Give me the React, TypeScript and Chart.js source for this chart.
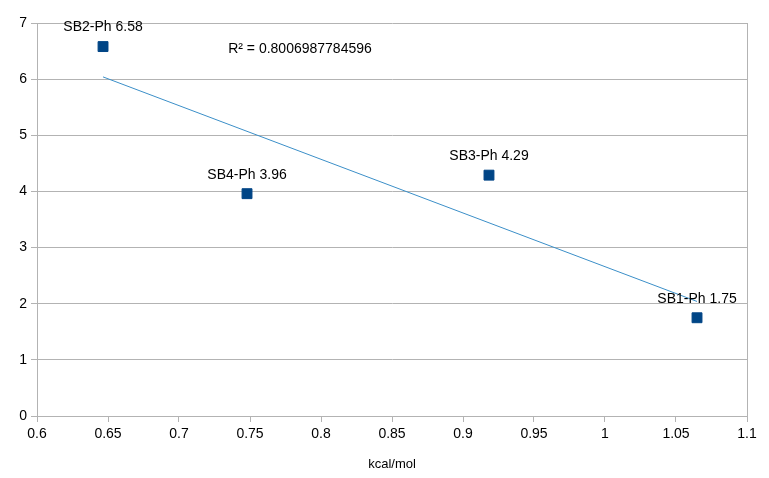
import React, { useEffect, useRef } from "react";
import { Chart, registerables } from "chart.js";

Chart.register(...registerables);

const pointNames = ["SB2-Ph", "SB4-Ph", "SB3-Ph", "SB1-Ph"];
const xValues = [0.6465, 0.7479, 0.9183, 1.0648];
const yValues = [6.58, 3.96, 4.29, 1.75];
const trendX = [0.6465, 1.0648];
const trendY = [6.04, 2.04];
const r2Text = "R² = 0.8006987784596";
const r2Pos = { x: 0.7852, y: 6.53 };
const xTitle = "kcal/mol";

const FONT = "'Liberation Sans', Arial, sans-serif";

const labelPlugin = {
  id: "pointLabels",
  afterDatasetsDraw(chart: any) {
    const { ctx } = chart;
    const meta = chart.getDatasetMeta(0);
    ctx.save();
    ctx.font = `14px ${FONT}`;
    ctx.fillStyle = "#000";
    ctx.textAlign = "center";
    ctx.textBaseline = "middle";
    meta.data.forEach((el: any, i: number) => {
      ctx.fillText(`${pointNames[i]} ${yValues[i]}`, el.x, el.y - 19);
    });
    const xs = chart.scales.x;
    const ys = chart.scales.y;
    ctx.fillText(r2Text, xs.getPixelForValue(r2Pos.x), ys.getPixelForValue(r2Pos.y));
    ctx.restore();
  },
};

export default function App() {
  const ref = useRef<HTMLCanvasElement>(null);
  useEffect(() => {
    if (!ref.current) return;
    const chart = new Chart(ref.current, {
      type: "scatter",
      data: {
        datasets: [
          {
            label: "points",
            data: xValues.map((x, i) => ({ x, y: yValues[i] })),
            pointStyle: "rect",
            pointRadius: 7,
            pointBorderWidth: 1,
            backgroundColor: "#004586",
            borderColor: "#004586",
            order: 1,
          },
          {
            label: "trend",
            type: "line",
            data: trendX.map((x, i) => ({ x, y: trendY[i] })),
            borderColor: "#3b8fc8",
            borderWidth: 1,
            pointRadius: 0,
            fill: false,
            order: 2,
          } as any,
        ],
      },
      options: {
        animation: false,
        responsive: false,
        maintainAspectRatio: false,
        layout: { padding: { top: 23, right: 22, left: 0, bottom: 0 } },
        plugins: {
          legend: { display: false },
          tooltip: { enabled: false },
        },
        scales: {
          x: {
            type: "linear",
            min: 0.6,
            max: 1.1,
            ticks: {
              stepSize: 0.05,
              color: "#000",
              font: { family: FONT, size: 14 },
              padding: 4,
              maxRotation: 0,
              autoSkip: false,
              callback: (v: any) => String(Number(Number(v).toFixed(2))),
            },
            grid: {
              drawOnChartArea: true,
              color: (c: any) =>
                c.tick && Math.abs(c.tick.value - 1.1) < 1e-6 ? "#b3b3b3" : "rgba(0,0,0,0)",
              tickColor: "#b3b3b3",
              tickLength: 6,
            },
            border: { color: "#b3b3b3" },
            title: {
              display: true,
              text: xTitle,
              color: "#000",
              font: { family: FONT, size: 13 },
              padding: { top: 0, bottom: 6 },
            },
            afterFit: (s: any) => {
              s.height = 62;
            },
          },
          y: {
            type: "linear",
            min: 0,
            max: 7,
            ticks: {
              stepSize: 1,
              color: "#000",
              font: { family: FONT, size: 14 },
              padding: 4,
            },
            grid: {
              color: "#b3b3b3",
              tickColor: "#b3b3b3",
              tickLength: 6,
            },
            border: { color: "#b3b3b3" },
            afterFit: (s: any) => {
              s.width = 37;
            },
          },
        },
      },
      plugins: [labelPlugin],
    });
    return () => chart.destroy();
  }, []);
  return (
    <div style={{ position: "fixed", left: 0, top: 0, width: 769, height: 478, background: "#fff" }}>
      <canvas ref={ref} width={769} height={478} style={{ width: 769, height: 478 }} />
    </div>
  );
}
